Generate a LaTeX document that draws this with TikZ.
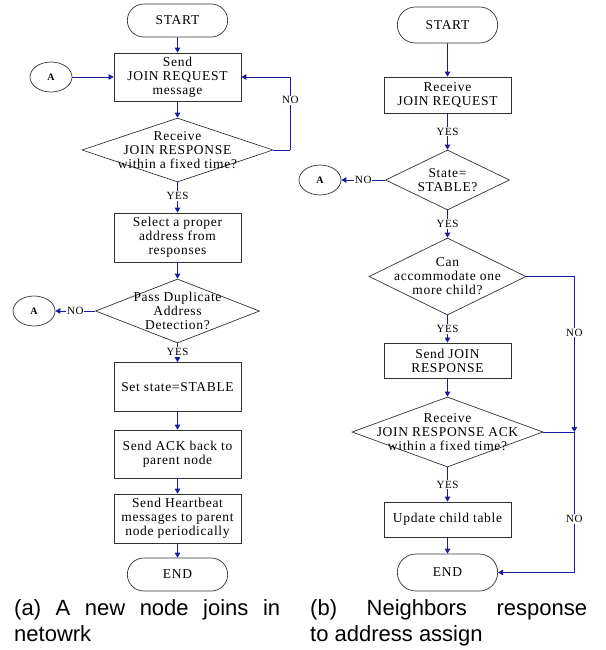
\documentclass[tikz,border=0pt]{standalone}
\usepackage{fontspec}
\newfontfamily\chartfont[LetterSpace=5]{Liberation Serif}
\newfontfamily\captionfont{Liberation Sans}
\definecolor{flowBlue}{HTML}{1A1A9E}
\definecolor{boxLine}{HTML}{333333}
\usetikzlibrary{shapes.geometric, shapes.misc, arrows.meta, positioning}

\begin{document}
\begin{tikzpicture}[
    x=1pt, y=-1pt,
    process/.style={rectangle, draw=boxLine, line width=0.7pt, minimum width=127pt,
                    minimum height=48pt, align=center, inner sep=2pt,
                    font=\chartfont\fontsize{13.5}{14}\selectfont},
    terminal/.style={rounded rectangle, draw=boxLine, line width=0.7pt, minimum width=107pt,
                     minimum height=33pt, font=\chartfont\fontsize{13.5}{14}\selectfont},
    decision/.style={diamond, draw=boxLine, line width=0.7pt, inner sep=0pt},
    question/.style={align=center, inner sep=0pt, font=\chartfont\fontsize{13.5}{14}\selectfont},
    connector/.style={ellipse, draw=boxLine, line width=0.7pt, minimum width=42pt,
                      minimum height=30pt, inner sep=0pt, font=\chartfont\fontsize{10}{12}\selectfont\bfseries},
    arrow/.style={-{Triangle[length=5pt, width=5.5pt]}, line width=0.9pt, flowBlue},
    link/.style={line width=0.9pt, flowBlue},
    tag/.style={fill=white, text=black, inner sep=1pt, font=\chartfont\fontsize{11}{12}\selectfont},
    caption/.style={anchor=north west, inner sep=0pt, align=justify,
                    font=\captionfont\fontsize{22}{26}\selectfont}
  ]
    \useasboundingbox (0,0) rectangle (605,650);

    % (a) new node joins
    \node[terminal] (startL) at (177.5,20.5) {START};
    \node[process] (sendReq) at (177.5,77) {Send\\JOIN REQUEST\\message};
    \node[connector] (aL1) at (51,77) {A};
    \node[decision, minimum width=191pt, minimum height=64pt,
          label={[question]center:{Receive\\JOIN RESPONSE\\within a fixed time?}}] (rcvResp) at (177.5,150) {};
    \node[process, minimum height=49pt] (selAddr) at (177.5,237.5) {Select a proper\\address from\\responses};
    \node[decision, minimum width=164pt, minimum height=64pt,
          label={[question]center:{Pass Duplicate\\Address\\Detection?}}] (dad) at (177.5,311) {};
    \node[connector] (aL2) at (34,311) {A};
    \node[process, minimum height=49pt] (setStable) at (177.5,387) {Set state=STABLE};
    \node[process] (sendAck) at (177.5,454) {Send ACK back to\\parent node};
    \node[process, minimum height=49pt] (heartbeat) at (177.5,518.5) {Send Heartbeat\\messages to parent\\node periodically};
    \node[terminal] (endL) at (177.5,574.5) {END};
    \coordinate (loopL) at ([xshift=17pt]rcvResp.east);

    \draw[arrow] (startL) -- (sendReq);
    \draw[arrow] (aL1) -- (sendReq);
    \draw[arrow] (sendReq) -- (rcvResp);
    \draw[link] (rcvResp.east) -- (loopL);
    \draw[arrow] (loopL) |- node[tag, pos=0.34] {NO} (sendReq.east);
    \draw[arrow] (rcvResp) -- node[tag, pos=0.45] {YES} (selAddr);
    \draw[arrow] (selAddr) -- (dad);
    \draw[arrow] (dad) -- node[tag, pos=0.5] {NO} (aL2);
    \draw[arrow] (dad) -- node[tag, pos=0.45] {YES} (setStable);
    \draw[arrow] (setStable) -- (sendAck);
    \draw[arrow] (sendAck) -- (heartbeat);
    \draw[arrow] (heartbeat) -- (endL);

    % (b) neighbors response
    \node[terminal, minimum height=36pt] (startR) at (447.5,25) {START};
    \node[process, minimum height=36pt] (rcvReq) at (447.5,95) {Receive\\JOIN REQUEST};
    \node[decision, minimum width=124pt, minimum height=60pt,
          label={[question]center:{State=\\STABLE?}}] (stable) at (447.5,180) {};
    \node[connector] (aR) at (320,180) {A};
    \node[decision, minimum width=157pt, minimum height=77pt,
          label={[question]center:{Can\\accommodate one\\more child?}}] (canAcc) at (447.5,276.5) {};
    \node[process, minimum height=35pt] (sendResp) at (447.5,360.5) {Send JOIN\\RESPONSE};
    \node[decision, minimum width=191pt, minimum height=70pt,
          label={[question]center:{Receive\\JOIN RESPONSE ACK\\within a fixed time?}}] (rcvAck) at (447.5,432) {};
    \node[process, minimum height=35pt] (updTable) at (447.5,519.5) {Update child table};
    \node[terminal, minimum height=37pt] (endR) at (447.5,572.5) {END};
    \coordinate (joinR) at ([xshift=31pt]rcvAck.east);

    \draw[arrow] (startR) -- (rcvReq);
    \draw[arrow] (rcvReq) -- node[tag, pos=0.5] {YES} (stable);
    \draw[arrow] (stable) -- node[tag, pos=0.5] {NO} (aR);
    \draw[arrow] (stable) -- node[tag, pos=0.5] {YES} (canAcc);
    \draw[arrow] (canAcc) -- node[tag, pos=0.5] {YES} (sendResp);
    \draw[arrow] (canAcc.east) -| node[tag, pos=0.68] {NO} (joinR);
    \draw[arrow] (sendResp) -- (rcvAck);
    \draw[link] (rcvAck.east) -- (joinR);
    \draw[arrow] (rcvAck) -- node[tag, pos=0.5] {YES} (updTable);
    \draw[arrow] (updTable) -- (endR);
    \draw[arrow] (joinR) |- node[tag, pos=0.31] {NO} (endR.east);

    % captions
    \node[caption, text width=266pt] (capA) at (14,599) {(a) A new node joins in\linebreak netowrk};
    \node[caption, text width=277pt] (capB) at (310,599) {(b) Neighbors response\linebreak to address assign};
  \end{tikzpicture}
\end{document}
